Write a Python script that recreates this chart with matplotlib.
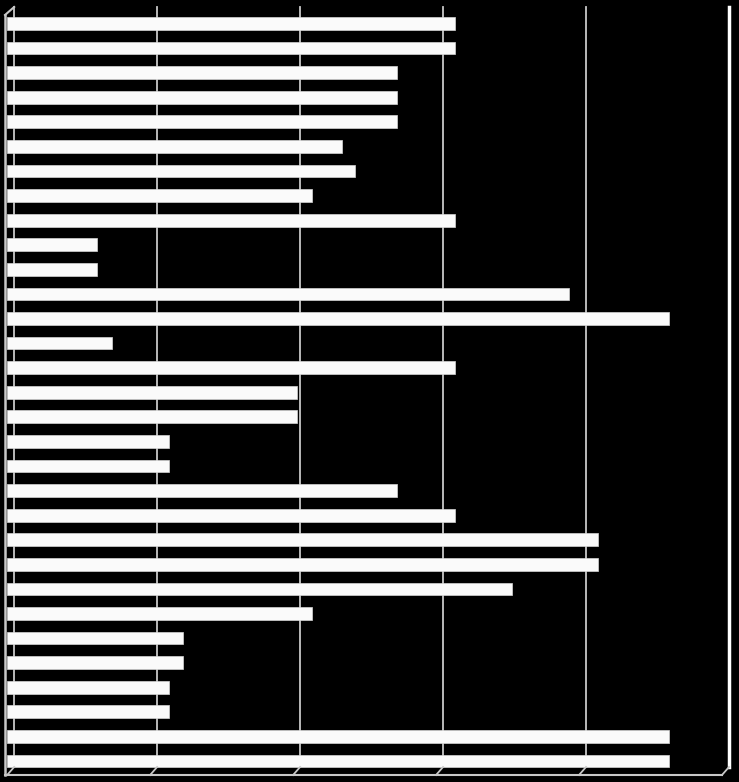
import matplotlib
matplotlib.use('Agg')
import matplotlib.pyplot as plt
import matplotlib.transforms as mtransforms
import numpy as np

# values, top bar first
values = [3.13, 3.13, 2.73, 2.73, 2.73, 2.34, 2.43, 2.13, 3.13, 0.63,
          0.63, 3.93, 4.63, 0.73, 3.13, 2.03, 2.03, 1.13, 1.13, 2.73,
          3.13, 4.13, 4.13, 3.53, 2.13, 1.23, 1.23, 1.13, 1.13, 4.63,
          4.63]
grid_values = [0, 1, 2, 3, 4, 5]

fig = plt.figure(figsize=(7.39, 7.82), dpi=100, facecolor='black')
W, H = 739, 782
ax = fig.add_axes([5 / W, (H - 775) / H, (722 - 5) / W, (775 - 15) / H])
ax.set_facecolor('black')

pos = np.arange(len(values))
ax.barh(pos, values, height=0.52, color='#fafafa', edgecolor='#d5d5d5',
        linewidth=0.5, zorder=3)

ax.set_xlim(-0.015, 5)
ax.set_ylim(30.57, -0.346)

# back wall gridlines, shifted right/up to fake the 3D depth
shift = mtransforms.ScaledTranslation(7 / 100, 8 / 100, fig.dpi_scale_trans)
blend = ax.get_xaxis_transform()
back = blend + shift
for k in grid_values:
    col = 'white' if k == grid_values[-1] else '#c8c8c8'
    lw = 2.5 if k == grid_values[-1] else 1.3
    ax.plot([k, k], [0, 1], transform=back, color=col, lw=lw, zorder=1,
            clip_on=False)
    # floor diagonal from back wall to front edge
    p0 = blend.transform((k, 0))
    p1 = back.transform((k, 0))
    fig.add_artist(plt.Line2D([p0[0] / W, p1[0] / W], [p0[1] / H, p1[1] / H],
                              color='#c8c8c8', lw=1.3))

# top-left corner diagonal
p0 = blend.transform((-0.015, 1))
p1 = back.transform((0, 1))
fig.add_artist(plt.Line2D([p0[0] / W, p1[0] / W], [p0[1] / H, p1[1] / H],
                          color='#c8c8c8', lw=1.5))

for s in ['top', 'right']:
    ax.spines[s].set_visible(False)
ax.spines['left'].set_color('#c8c8c8')
ax.spines['left'].set_linewidth(1.8)
ax.spines['bottom'].set_color('#c8c8c8')
ax.spines['bottom'].set_linewidth(1.5)
ax.set_xticks([])
ax.set_yticks([])

fig.savefig('out.png', dpi=100, facecolor='black')
